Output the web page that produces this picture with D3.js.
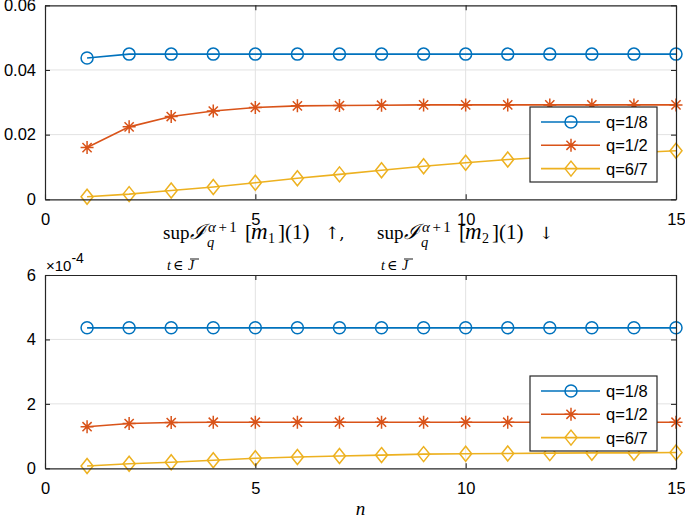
<!DOCTYPE html>
<html>
<head>
<meta charset="utf-8">
<script src="https://cdn.jsdelivr.net/npm/d3@7"></script>
<style>
  body { margin: 0; background: #fff; }
  svg { display: block; }
  .tick-label { font-family: "Liberation Sans", Arial, Helvetica, sans-serif; font-size: 16.5px; fill: #000; }
  .math { font-family: "Liberation Serif", "DejaVu Serif", serif; fill: #000; }
  .arrow { font-family: "DejaVu Serif", serif; fill: #000; }
</style>
</head>
<body>
<div id="chart"></div>
<script>
// --- data ---
const nValues = [1, 2, 3, 4, 5, 6, 7, 8, 9, 10, 11, 12, 13, 14, 15];
const seriesNames = ["q=1/8", "q=1/2", "q=6/7"];
const seriesColors = ["#0072BD", "#D95319", "#EDB120"];
const seriesMarkers = ["circle", "star", "diamond"];

// top panel
const topQ18 = [0.0437, 0.0449, 0.0449, 0.0449, 0.0449, 0.0449, 0.0449, 0.0449, 0.0449, 0.0449, 0.0449, 0.0449, 0.0449, 0.0449, 0.0449];
const topQ12 = [0.0160, 0.0224, 0.0256, 0.0273, 0.0284, 0.0289, 0.0290, 0.0291, 0.0292, 0.0292, 0.0292, 0.0292, 0.0292, 0.0292, 0.0292];
const topQ67 = [0.0008, 0.0016, 0.0027, 0.0038, 0.0051, 0.0065, 0.0077, 0.0090, 0.0102, 0.0113, 0.0123, 0.0131, 0.0138, 0.0144, 0.0150];
const topYTicks = [0, 0.02, 0.04, 0.06];
const topYLabels = ["0", "0.02", "0.04", "0.06"];

// bottom panel (values x 1e-4)
const botQ18 = [4.36, 4.36, 4.36, 4.36, 4.36, 4.36, 4.36, 4.36, 4.36, 4.36, 4.36, 4.36, 4.36, 4.36, 4.36];
const botQ12 = [1.29, 1.39, 1.42, 1.43, 1.43, 1.43, 1.43, 1.43, 1.43, 1.43, 1.43, 1.43, 1.43, 1.43, 1.43];
const botQ67 = [0.07, 0.14, 0.19, 0.25, 0.31, 0.35, 0.38, 0.41, 0.44, 0.45, 0.46, 0.47, 0.48, 0.48, 0.49];
const botYTicks = [0, 2, 4, 6];
const botYLabels = ["0", "2", "4", "6"];

const xTicks = [0, 5, 10, 15];

// --------------------------
// DIMENSIONS
// --------------------------
const width = 685, height = 519;
const left = 45, right = 676;

const svg = d3.select("#chart").append("svg")
  .attr("width", width)
  .attr("height", height);

const x = d3.scaleLinear().domain([0, 15]).range([left, right]);

function markerPath(type) {
  if (type === "circle") return d3.symbol(d3.symbolCircle, Math.PI * 36)();
  if (type === "diamond") return "M0,-7.5L6,0L0,7.5L-6,0Z";
  // star = plus + cross
  const r = 6.5, d = 4.6;
  return `M${-r},0L${r},0M0,${-r}L0,${r}M${-d},${-d}L${d},${d}M${-d},${d}L${d},${-d}`;
}

function drawPanel(top, bottom, yMax, yTicks, yLabels, series, legendBox) {
  const y = d3.scaleLinear().domain([0, yMax]).range([bottom, top]);
  const g = svg.append("g");

  // grid
  g.append("g").selectAll("line.gx")
    .data(xTicks.slice(1, -1))
    .join("line")
      .attr("x1", d => x(d)).attr("x2", d => x(d))
      .attr("y1", top).attr("y2", bottom)
      .attr("stroke", "#e2e2e2").attr("stroke-width", 1);
  g.append("g").selectAll("line.gy")
    .data(yTicks.slice(1, -1))
    .join("line")
      .attr("y1", d => y(d)).attr("y2", d => y(d))
      .attr("x1", left).attr("x2", right)
      .attr("stroke", "#e2e2e2").attr("stroke-width", 1);

  // lines + markers
  series.forEach((vals, i) => {
    const pts = vals.map((v, k) => ({ n: nValues[k], v }));
    g.append("path")
      .datum(pts)
      .attr("fill", "none")
      .attr("stroke", seriesColors[i])
      .attr("stroke-width", 1.6)
      .attr("d", d3.line().x(d => x(d.n)).y(d => y(d.v)));
    g.append("g").selectAll("path")
      .data(pts)
      .join("path")
        .attr("transform", d => `translate(${x(d.n)},${y(d.v)})`)
        .attr("d", markerPath(seriesMarkers[i]))
        .attr("fill", "none")
        .attr("stroke", seriesColors[i])
        .attr("stroke-width", 1.5);
  });

  // axes (MATLAB style: box, ticks inside)
  const tl = 5;
  const axB = g.append("g").attr("transform", `translate(0,${bottom})`)
    .call(d3.axisBottom(x).tickValues(xTicks).tickSizeInner(-tl).tickSizeOuter(0));
  const axT = g.append("g").attr("transform", `translate(0,${top})`)
    .call(d3.axisTop(x).tickValues(xTicks).tickSizeInner(-tl).tickSizeOuter(0).tickFormat(""));
  const axL = g.append("g").attr("transform", `translate(${left},0)`)
    .call(d3.axisLeft(y).tickValues(yTicks).tickSizeInner(-tl).tickSizeOuter(0).tickPadding(9)
      .tickFormat((d, i) => yLabels[i]));
  const axR = g.append("g").attr("transform", `translate(${right},0)`)
    .call(d3.axisRight(y).tickValues(yTicks).tickSizeInner(-tl).tickSizeOuter(0).tickFormat(""));
  [axB, axT, axL, axR].forEach(a => {
    a.select(".domain").attr("stroke", "#262626").attr("stroke-width", 1.2);
    a.selectAll(".tick line").attr("stroke", "#262626").attr("stroke-width", 1.1);
    a.selectAll("text").attr("class", "tick-label").attr("font-size", null).attr("font-family", null);
  });
  axB.selectAll("text").attr("dy", "0.71em").attr("y", 14);

  // legend
  const lg = g.append("g").attr("transform", `translate(${legendBox.x},${legendBox.y})`);
  lg.append("rect")
    .attr("width", legendBox.w).attr("height", legendBox.h)
    .attr("fill", "#fff").attr("stroke", "#262626").attr("stroke-width", 1.2);
  seriesNames.forEach((name, i) => {
    const ry = 15 + i * 23.3;
    lg.append("line")
      .attr("x1", 11).attr("x2", 70).attr("y1", ry).attr("y2", ry)
      .attr("stroke", seriesColors[i]).attr("stroke-width", 1.6);
    lg.append("path")
      .attr("transform", `translate(41,${ry})`)
      .attr("d", markerPath(seriesMarkers[i]))
      .attr("fill", "none").attr("stroke", seriesColors[i]).attr("stroke-width", 1.5);
    lg.append("text")
      .attr("class", "tick-label")
      .attr("x", 76).attr("y", ry).attr("dy", "0.36em")
      .text(name);
  });
  return y;
}

drawPanel(5.3, 199.3, 0.06, topYTicks, topYLabels, [topQ18, topQ12, topQ67],
  { x: 530, y: 107, w: 127, h: 75 });
drawPanel(275, 468.3, 6, botYTicks, botYLabels, [botQ18, botQ12, botQ67],
  { x: 530, y: 376, w: 127, h: 75 });

// exponent label
const ex = svg.append("text").attr("class", "tick-label").attr("x", 46).attr("y", 271);
ex.append("tspan").text("\u00d710").attr("font-size", 15);
ex.append("tspan").text("-4").attr("font-size", 14).attr("dy", -8);

// x label
svg.append("text").attr("class", "math")
  .attr("x", 360.5).attr("y", 515)
  .attr("text-anchor", "middle")
  .attr("font-size", 19).attr("font-style", "italic")
  .text("n");

// title: sup I_q^{a+1}[m1](1) up,  sup I_q^{a+1}[m2](1) down
function titlePart(x0, idx, arrow) {
  const t = svg.append("g").attr("transform", `translate(${x0},0)`);
  const txt = (xx, yy, size, s, italic) => t.append("text").attr("class", "math")
    .attr("x", xx).attr("y", yy).attr("font-size", size)
    .attr("font-style", italic ? "italic" : "normal").text(s);
  txt(0, 238.5, 19, "sup");
  // subscript t in J-bar
  txt(4, 269.5, 14, "t", true);
  txt(10, 269.5, 14, "\u2208");
  txt(25, 269.5, 14, "J", true);
  t.append("line").attr("x1", 27).attr("x2", 36).attr("y1", 259).attr("y2", 259)
    .attr("stroke", "#000").attr("stroke-width", 0.9);
  txt(27, 238.5, 21, "\u2110", true);
  const sup = t.append("text").attr("class", "math").attr("x", 45).attr("y", 232)
    .attr("font-size", 15).attr("letter-spacing", 2.5);
  sup.append("tspan").attr("font-style", "italic").text("\u03b1");
  sup.append("tspan").text("+1");
  txt(44, 247, 14.5, "q", true);
  txt(82, 238.5, 21, "[");
  txt(88, 238.5, 23, "m", true);
  txt(105, 242.5, 14, idx);
  txt(115, 238.5, 21, "](1)");
  t.append("text").attr("class", "arrow")
    .attr("x", 162).attr("y", 238.5).attr("font-size", 17).text(arrow);
}
titlePart(163, "1", "\u2191,");
titlePart(377, "2", "\u2193");
</script>
</body>
</html>
